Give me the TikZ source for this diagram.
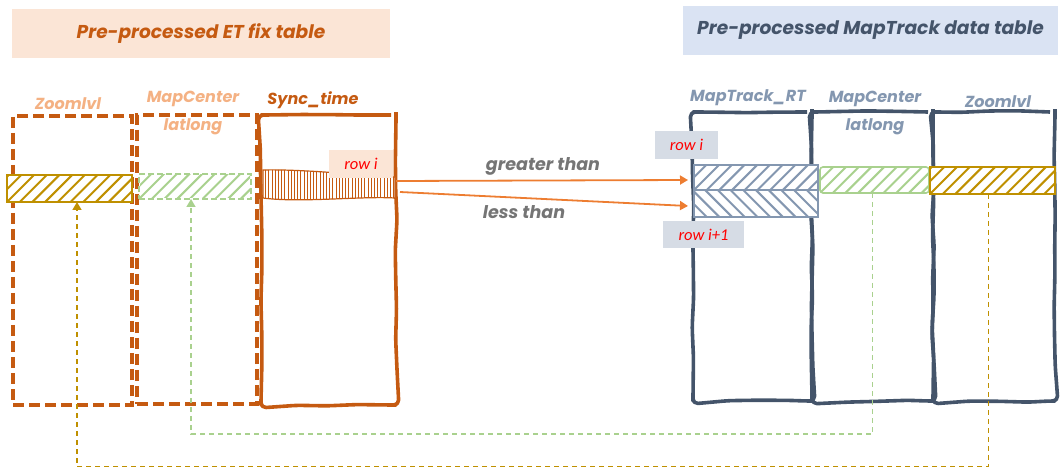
\documentclass[tikz,border=0pt]{standalone}
\usepackage{fontspec}
\setmainfont{Poppins}
\newfontfamily\tagfont{Carlito}
\usetikzlibrary{patterns.meta,arrows.meta,decorations.pathmorphing}

\definecolor{etdark}{HTML}{C55A11}
\definecolor{etlight}{HTML}{F4B183}
\definecolor{etpeach}{HTML}{FBE5D6}
\definecolor{flowor}{HTML}{ED7D31}
\definecolor{slate}{HTML}{44546A}
\definecolor{slatelt}{HTML}{8497B0}
\definecolor{tagbg}{HTML}{D6DCE5}
\definecolor{bluebg}{HTML}{DAE3F3}
\definecolor{gold}{HTML}{BF9000}
\definecolor{leaf}{HTML}{A9D18E}
\definecolor{talk}{HTML}{757575}

% diagonal hatching inside a named band: #1 node, #2 colour, #3 = 1 (rising) or -1 (falling)
\newcommand\hatchband[3]{%
  \begin{scope}
    \clip ([shift={(1pt,1pt)}]#1.south west) rectangle ([shift={(-1pt,-1pt)}]#1.north east);
    \foreach \k in {-4,...,15}
      \draw[#2,line width=2pt] ([xshift=\k*12.7pt]#1.south west) -- ++(#3*40pt,40pt);
  \end{scope}}

\begin{document}
\pgfmathsetseed{11}
\begin{tikzpicture}[x=1pt,y=-1pt,
  box/.style={inner sep=0pt,outer sep=0pt,minimum width=#1},
  title/.style={inner sep=0pt,outer sep=0pt,font=\fontsize{18.6}{20}\selectfont\bfseries\itshape},
  colhead/.style={font=\fontsize{16}{18}\selectfont\bfseries\itshape,inner sep=0pt},
  sketch/.style={decorate,decoration={random steps,segment length=30pt,amplitude=1.2pt},rounded corners=5pt},
  dashcol/.style={draw=etdark,line width=3.6pt,dash pattern=on 11pt off 5pt},
  solidcol/.style={draw=#1,line width=3.6pt,line join=round},
  band/.style={fill=white,line width=1.6pt},
  rowtag/.style={inner sep=0pt,font=\tagfont\itshape\fontsize{16.5}{18}\selectfont,text=red},
  flow/.style={draw=flowor,line width=1.8pt,-{Triangle[width=9pt,length=8pt]}},
  flowtxt/.style={font=\fontsize{17.5}{19}\selectfont\bfseries\itshape,text=talk,inner sep=0pt},
  back/.style={line width=1.6pt,dash pattern=on 5pt off 4pt,-{Triangle[width=9pt,length=8pt]}}
]
\useasboundingbox (0,0) rectangle (1063,470);

% headers
\node[title,fill=etpeach,text=etdark,minimum width=378pt,minimum height=49pt] (titleL) at (201,33.5) {Pre-processed ET fix table};
\node[title,fill=bluebg,text=slate,minimum width=375pt,minimum height=49pt] (titleR) at (870.5,30.5) {Pre-processed MapTrack data table};

% ---- ET fix table columns
\node[box=119pt,minimum height=289pt,dashcol] (zlL) at (72.5,260.5) {};
\node[box=120pt,minimum height=289pt,dashcol] (mcL) at (197,259.5) {};
\node[box=135pt,minimum height=290pt,solidcol=etdark,sketch] (syL) at (328.5,260) {};

\node[colhead,text=etlight] (hzlL) at (68,104) {Zoomlvl};
\node[colhead,text=etlight] (hmcL) at (193,99) {MapCenter};
\node[colhead,text=etlight] (hllL) at (193,127) {latlong};
\node[colhead,text=etdark] (hsyL) at (313,100) {Sync\_time};

% matched rows (left)
\node[box=125pt,minimum height=27pt,band,draw=gold] (zlbandL) at (69.5,188.5) {};
\hatchband{zlbandL}{gold}{1}
\node[box=112pt,minimum height=25pt,band,draw=leaf,line width=1.4pt,dash pattern=on 6pt off 3pt] (mcbandL) at (195,186.5) {};
\hatchband{mcbandL}{leaf}{1}
\path[draw=etdark,line width=1.2pt,preaction={fill=white},pattern={Lines[angle=90,distance=3.2pt,line width=1pt]},pattern color=etdark]
  (263,170) .. controls (300,169) and (360,175) .. (395,177) -- (395,198)
  .. controls (360,196) and (300,203) .. (263,198) -- cycle;
\node[box=64pt,minimum height=28pt,fill=etpeach,rowtag] (rowL) at (361,164) {row i};

% ---- MapTrack data table columns
\node[box=119pt,minimum height=289pt,solidcol=slate,sketch] (mtcol) at (752.5,256.5) {};
\node[box=121pt,minimum height=289pt,solidcol=slate,sketch] (mccol) at (872.5,256.5) {};
\node[box=122pt,minimum height=289pt,solidcol=slate,sketch] (zlcol) at (994,256.5) {};

\node[colhead,text=slatelt] (hmtR) at (748,98) {MapTrack\_RT};
\node[colhead,text=slatelt] (hmcR) at (875,99) {MapCenter};
\node[colhead,text=slatelt] (hllR) at (875,127) {latlong};
\node[colhead,text=slatelt] (hzlR) at (998,102) {Zoomlvl};

% matched rows (right)
\node[box=124pt,minimum height=25pt,band,draw=slatelt] (mtup) at (756,177.5) {};
\hatchband{mtup}{slatelt}{1}
\node[box=124pt,minimum height=27pt,band,draw=slatelt] (mtlo) at (756,203.5) {};
\hatchband{mtlo}{slatelt}{-1}
\node[box=109pt,minimum height=26pt,band,draw=leaf,rounded corners=3pt] (mcbandR) at (874.5,180) {};
\hatchband{mcbandR}{leaf}{1}
\node[box=125pt,minimum height=27pt,band,draw=gold,line width=1.8pt] (zlbandR) at (992.5,180.5) {};
\hatchband{zlbandR}{gold}{1}

\node[box=63pt,minimum height=28pt,fill=tagbg,rowtag] (rowR) at (686.5,145) {row i};
\node[box=81pt,minimum height=27pt,fill=tagbg,rowtag] (rowR1) at (703.5,234.5) {row i+1};

% ---- comparisons
\draw[flow] ([yshift=79pt]syL.east) -- ([xshift=-6pt,yshift=-2.5pt]mtup.west);
\draw[flow] ([xshift=4pt,yshift=68pt]syL.east) -- ([xshift=-6pt,yshift=-2.5pt]mtlo.west);
\node[flowtxt] (gt) at (543,166) {greater than};
\node[flowtxt] (lt) at (524,212) {less than};

% ---- values carried back
\draw[back,draw=leaf] ([xshift=-2pt]mcbandR.south) -- ++(0,241) -| ([xshift=-4pt]mcbandL.south);
\draw[back,draw=gold] ([xshift=-4pt]zlbandR.south) -- ++(0,272.5) -| ([xshift=7.5pt]zlbandL.south);
\end{tikzpicture}
\end{document}
